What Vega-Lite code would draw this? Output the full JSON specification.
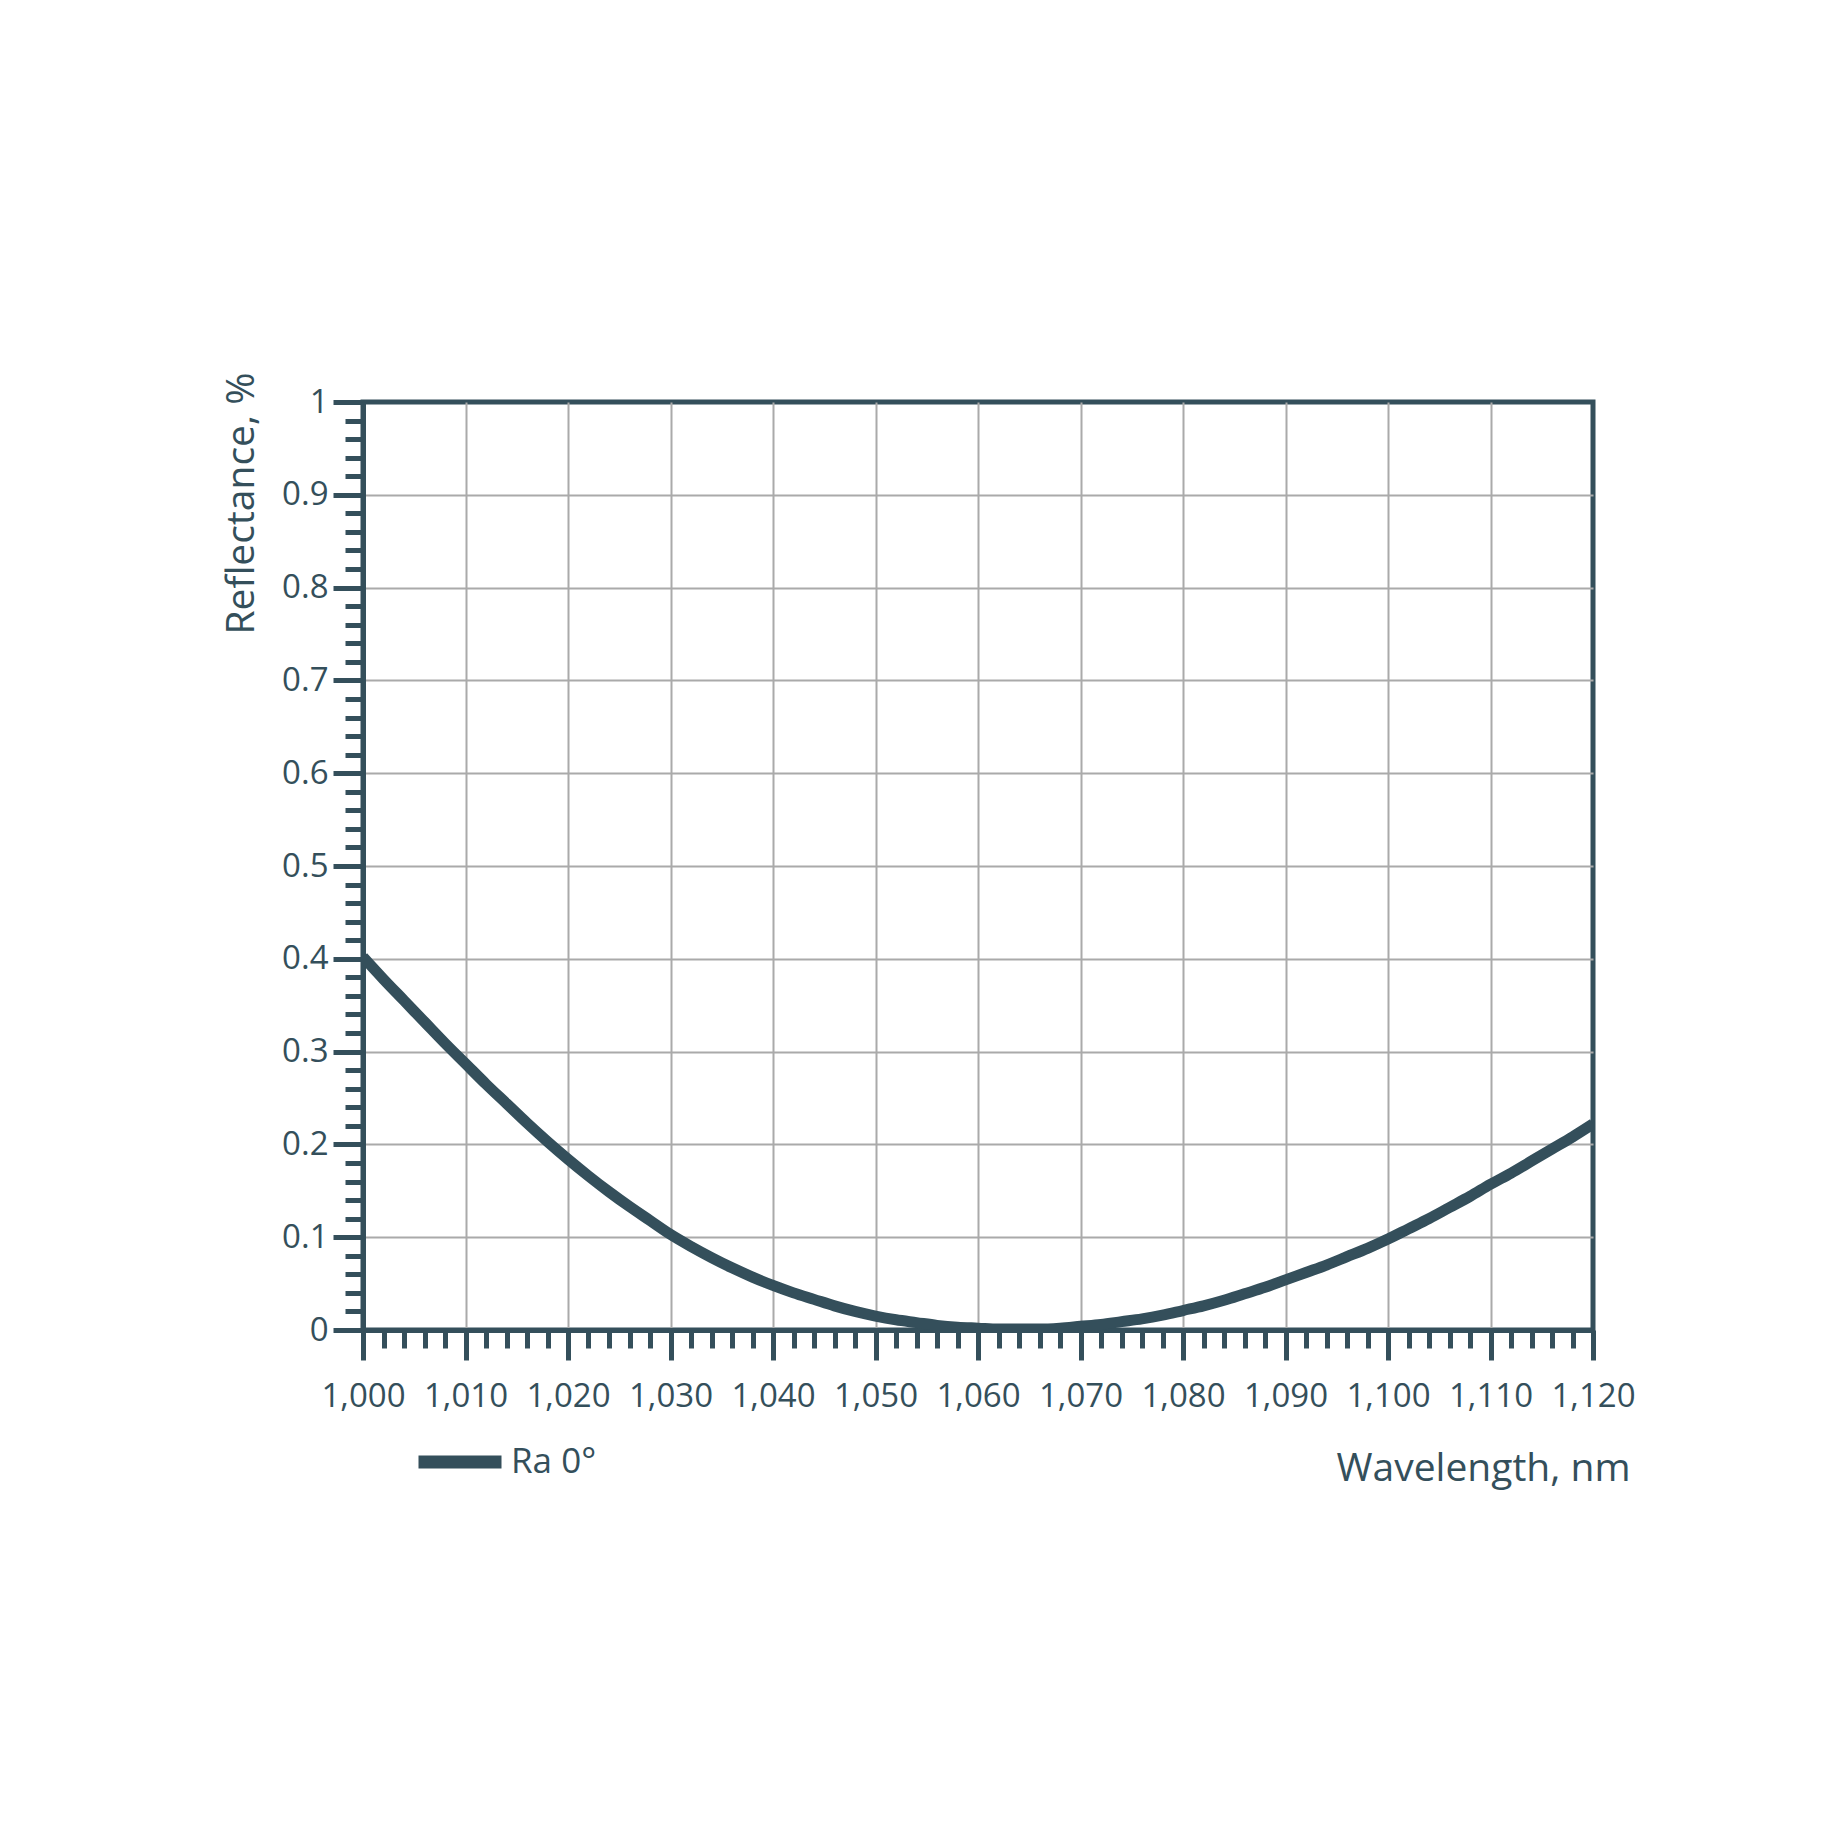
{
  "$schema": "https://vega.github.io/schema/vega-lite/v6.json",
  "autosize": "none",
  "padding": {"left": 363, "top": 402, "right": 255, "bottom": 518},
  "width": 1230,
  "height": 928,
  "background": "white",
  "view": {"stroke": "#344f5b", "strokeWidth": 5},
  "config": {
    "font": "Open Sans"
  },
  "data": {
    "values": [
      {"wl": 1000, "r": 0.402, "series": "Ra 0°"},
      {"wl": 1002, "r": 0.378, "series": "Ra 0°"},
      {"wl": 1004, "r": 0.355, "series": "Ra 0°"},
      {"wl": 1006, "r": 0.332, "series": "Ra 0°"},
      {"wl": 1008, "r": 0.309, "series": "Ra 0°"},
      {"wl": 1010, "r": 0.287, "series": "Ra 0°"},
      {"wl": 1012, "r": 0.265, "series": "Ra 0°"},
      {"wl": 1014, "r": 0.244, "series": "Ra 0°"},
      {"wl": 1016, "r": 0.223, "series": "Ra 0°"},
      {"wl": 1018, "r": 0.203, "series": "Ra 0°"},
      {"wl": 1020, "r": 0.184, "series": "Ra 0°"},
      {"wl": 1022, "r": 0.166, "series": "Ra 0°"},
      {"wl": 1024, "r": 0.149, "series": "Ra 0°"},
      {"wl": 1026, "r": 0.133, "series": "Ra 0°"},
      {"wl": 1028, "r": 0.118, "series": "Ra 0°"},
      {"wl": 1030, "r": 0.103, "series": "Ra 0°"},
      {"wl": 1032, "r": 0.090, "series": "Ra 0°"},
      {"wl": 1034, "r": 0.078, "series": "Ra 0°"},
      {"wl": 1036, "r": 0.067, "series": "Ra 0°"},
      {"wl": 1038, "r": 0.057, "series": "Ra 0°"},
      {"wl": 1040, "r": 0.048, "series": "Ra 0°"},
      {"wl": 1042, "r": 0.040, "series": "Ra 0°"},
      {"wl": 1044, "r": 0.033, "series": "Ra 0°"},
      {"wl": 1046, "r": 0.026, "series": "Ra 0°"},
      {"wl": 1048, "r": 0.020, "series": "Ra 0°"},
      {"wl": 1050, "r": 0.015, "series": "Ra 0°"},
      {"wl": 1052, "r": 0.011, "series": "Ra 0°"},
      {"wl": 1054, "r": 0.008, "series": "Ra 0°"},
      {"wl": 1056, "r": 0.005, "series": "Ra 0°"},
      {"wl": 1058, "r": 0.003, "series": "Ra 0°"},
      {"wl": 1060, "r": 0.002, "series": "Ra 0°"},
      {"wl": 1062, "r": 0.001, "series": "Ra 0°"},
      {"wl": 1064, "r": 0.001, "series": "Ra 0°"},
      {"wl": 1066, "r": 0.001, "series": "Ra 0°"},
      {"wl": 1068, "r": 0.002, "series": "Ra 0°"},
      {"wl": 1070, "r": 0.004, "series": "Ra 0°"},
      {"wl": 1072, "r": 0.006, "series": "Ra 0°"},
      {"wl": 1074, "r": 0.009, "series": "Ra 0°"},
      {"wl": 1076, "r": 0.012, "series": "Ra 0°"},
      {"wl": 1078, "r": 0.016, "series": "Ra 0°"},
      {"wl": 1080, "r": 0.021, "series": "Ra 0°"},
      {"wl": 1082, "r": 0.026, "series": "Ra 0°"},
      {"wl": 1084, "r": 0.032, "series": "Ra 0°"},
      {"wl": 1086, "r": 0.039, "series": "Ra 0°"},
      {"wl": 1088, "r": 0.046, "series": "Ra 0°"},
      {"wl": 1090, "r": 0.054, "series": "Ra 0°"},
      {"wl": 1092, "r": 0.062, "series": "Ra 0°"},
      {"wl": 1094, "r": 0.070, "series": "Ra 0°"},
      {"wl": 1096, "r": 0.079, "series": "Ra 0°"},
      {"wl": 1098, "r": 0.088, "series": "Ra 0°"},
      {"wl": 1100, "r": 0.098, "series": "Ra 0°"},
      {"wl": 1102, "r": 0.109, "series": "Ra 0°"},
      {"wl": 1104, "r": 0.120, "series": "Ra 0°"},
      {"wl": 1106, "r": 0.132, "series": "Ra 0°"},
      {"wl": 1108, "r": 0.144, "series": "Ra 0°"},
      {"wl": 1110, "r": 0.157, "series": "Ra 0°"},
      {"wl": 1112, "r": 0.169, "series": "Ra 0°"},
      {"wl": 1114, "r": 0.182, "series": "Ra 0°"},
      {"wl": 1116, "r": 0.195, "series": "Ra 0°"},
      {"wl": 1118, "r": 0.208, "series": "Ra 0°"},
      {"wl": 1120, "r": 0.222, "series": "Ra 0°"}
    ]
  },
  "mark": {"type": "line", "strokeWidth": 11, "clip": true, "interpolate": "monotone"},
  "encoding": {
    "x": {
      "field": "wl",
      "type": "quantitative",
      "scale": {"domain": [1000, 1120], "nice": false, "zero": false},
      "axis": {
        "values": [1000,1002,1004,1006,1008,1010,1012,1014,1016,1018,1020,1022,1024,1026,1028,1030,1032,1034,1036,1038,1040,1042,1044,1046,1048,1050,1052,1054,1056,1058,1060,1062,1064,1066,1068,1070,1072,1074,1076,1078,1080,1082,1084,1086,1088,1090,1092,1094,1096,1098,1100,1102,1104,1106,1108,1110,1112,1114,1116,1118,1120],
        "labelExpr": "datum.value % 10 === 0 ? format(datum.value, ',') : ''",
        "labelFlush": false,
        "labelOverlap": false,
        "labelFontSize": 33,
        "labelColor": "#344f5b",
        "labelPadding": 20,
        "domainColor": "#344f5b",
        "domainWidth": 5,
        "tickColor": "#344f5b",
        "tickWidth": 5,
        "tickSize": {"condition": {"test": "datum.value % 10 === 0", "value": 30}, "value": 18},
        "grid": true,
        "gridColor": "#aaaaaa",
        "gridWidth": 2,
        "gridOpacity": {"condition": {"test": "datum.value % 10 === 0 && datum.value > 1000 && datum.value < 1120", "value": 1}, "value": 0},
        "title": "Wavelength, nm",
        "titleFontSize": 39,
        "titleFontWeight": "normal",
        "titleColor": "#344f5b",
        "titleAlign": "right",
        "titleBaseline": "alphabetic",
        "titleAnchor": null,
        "titleX": 1267,
        "titleY": 150
      }
    },
    "y": {
      "field": "r",
      "type": "quantitative",
      "scale": {"domain": [0, 1], "nice": false},
      "axis": {
        "values": [0,0.02,0.04,0.06,0.08,0.1,0.12,0.14,0.16,0.18,0.2,0.22,0.24,0.26,0.28,0.3,0.32,0.34,0.36,0.38,0.4,0.42,0.44,0.46,0.48,0.5,0.52,0.54,0.56,0.58,0.6,0.62,0.64,0.66,0.68,0.7,0.72,0.74,0.76,0.78,0.8,0.82,0.84,0.86,0.88,0.9,0.92,0.94,0.96,0.98,1],
        "labelExpr": "abs(datum.value * 10 - round(datum.value * 10)) < 0.001 ? format(datum.value, '') : ''",
        "labelFlush": false,
        "labelOverlap": false,
        "labelFontSize": 33,
        "labelColor": "#344f5b",
        "labelPadding": 5,
        "domainColor": "#344f5b",
        "domainWidth": 5,
        "tickColor": "#344f5b",
        "tickWidth": 5,
        "tickSize": {"condition": {"test": "abs(datum.value * 10 - round(datum.value * 10)) < 0.001", "value": 30}, "value": 18},
        "grid": true,
        "gridColor": "#aaaaaa",
        "gridWidth": 2,
        "gridOpacity": {"condition": {"test": "abs(datum.value * 10 - round(datum.value * 10)) < 0.001 && datum.value > 0.001 && datum.value < 0.999", "value": 1}, "value": 0},
        "title": "Reflectance, %",
        "titleFontSize": 39,
        "titleFontWeight": "normal",
        "titleColor": "#344f5b",
        "titleAngle": 270,
        "titleAlign": "right",
        "titleBaseline": "alphabetic",
        "titleAnchor": null,
        "titleX": -110,
        "titleY": -30
      }
    },
    "color": {
      "field": "series",
      "type": "nominal",
      "scale": {"range": ["#344f5b"]},
      "legend": {
        "title": null,
        "orient": "none",
        "legendX": 49,
        "legendY": 1012,
        "padding": 0,
        "symbolType": "stroke",
        "symbolSize": 6889,
        "symbolStrokeWidth": 13,
        "labelFontSize": 35,
        "labelColor": "#344f5b",
        "labelOffset": 3
      }
    }
  }
}
